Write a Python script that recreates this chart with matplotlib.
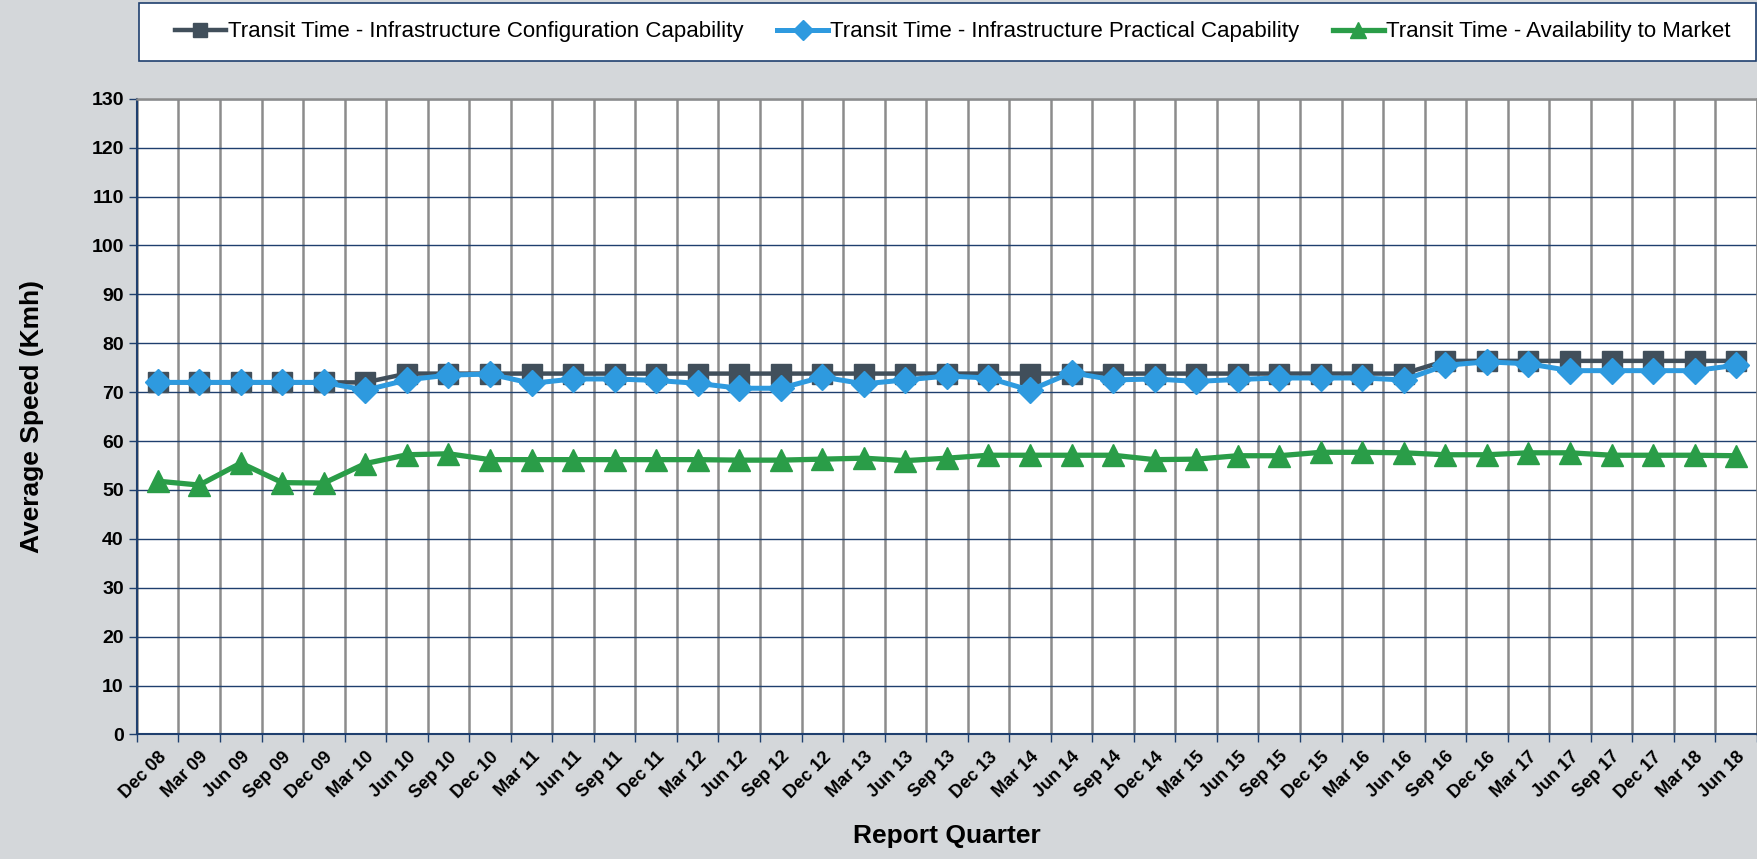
import numpy as np
from matplotlib import pyplot as plt
from matplotlib.patches import Rectangle
from matplotlib.ticker import FixedLocator, MultipleLocator

plt.rcParams['font.family'] = ['Liberation Sans', 'DejaVu Sans']

quarters = ["Dec 08", "Mar 09", "Jun 09", "Sep 09", "Dec 09", "Mar 10", "Jun 10",
            "Sep 10", "Dec 10", "Mar 11", "Jun 11", "Sep 11", "Dec 11", "Mar 12",
            "Jun 12", "Sep 12", "Dec 12", "Mar 13", "Jun 13", "Sep 13", "Dec 13",
            "Mar 14", "Jun 14", "Sep 14", "Dec 14", "Mar 15", "Jun 15", "Sep 15",
            "Dec 15", "Mar 16", "Jun 16", "Sep 16", "Dec 16", "Mar 17", "Jun 17",
            "Sep 17", "Dec 17", "Mar 18", "Jun 18"]

config_capability = [72.0, 72.0, 72.0, 72.0, 72.0, 72.0, 73.8, 73.8, 73.8, 73.8,
                     73.8, 73.8, 73.8, 73.8, 73.8, 73.8, 73.8, 73.8, 73.8, 73.8,
                     73.8, 73.8, 73.8, 73.8, 73.8, 73.8, 73.8, 73.8, 73.8, 73.8,
                     73.8, 76.4, 76.4, 76.4, 76.4, 76.4, 76.4, 76.4, 76.4]

practical_capability = [72.0, 72.0, 72.0, 72.0, 72.0, 70.4, 72.5, 73.5, 73.7, 71.8,
                        72.7, 72.7, 72.4, 71.8, 70.8, 70.8, 73.1, 71.7, 72.5, 73.3,
                        72.9, 70.4, 74.0, 72.5, 72.7, 72.2, 72.6, 72.9, 72.9, 72.9,
                        72.5, 75.5, 76.2, 75.8, 74.4, 74.4, 74.4, 74.4, 75.5]

availability_market = [51.8, 51.0, 55.5, 51.5, 51.4, 55.4, 57.2, 57.4, 56.2, 56.2,
                       56.2, 56.2, 56.2, 56.2, 56.1, 56.1, 56.3, 56.5, 56.0, 56.5,
                       57.1, 57.1, 57.1, 57.1, 56.2, 56.3, 57.0, 57.0, 57.7, 57.7,
                       57.6, 57.2, 57.2, 57.6, 57.6, 57.1, 57.1, 57.1, 57.0]

bg = '#D4D7DA'
navy = '#1F3F6E'

fig = plt.figure(figsize=(17.58, 8.59), dpi=100, facecolor=bg)
ax = fig.add_axes([0.0779, 0.145, 0.9215, 0.740])
ax.set_facecolor('white')

x = np.arange(len(quarters))
l1, = ax.plot(x, config_capability, color='#414F5B', lw=3.2, marker='s', ms=14,
              label='Transit Time - Infrastructure Configuration Capability', zorder=3)
l2, = ax.plot(x, practical_capability, color='#2E9ADF', lw=3.6, marker='D', ms=13,
              label='Transit Time - Infrastructure Practical Capability', zorder=4)
l3, = ax.plot(x, availability_market, color='#2A9D48', lw=3.8, marker='^', ms=16,
              label='Transit Time - Availability to Market', zorder=5)

ax.set_xlim(-0.5, len(quarters) - 0.5)
ax.set_ylim(0, 130)
ax.yaxis.set_major_locator(MultipleLocator(10))
ax.set_xticks(x)
ax.set_xticklabels(quarters, rotation=45, ha='right', rotation_mode='anchor',
                   fontsize=13, fontweight='bold')
ax.xaxis.set_minor_locator(FixedLocator(np.arange(len(quarters) + 1) - 0.5))
ax.tick_params(axis='x', which='major', length=0, pad=10)
ax.tick_params(axis='x', which='minor', length=6, color=navy, width=1)
ax.tick_params(axis='y', length=6, color=navy, width=1, labelsize=14)
for t in ax.get_yticklabels():
    t.set_fontweight('bold')

ax.grid(axis='y', which='major', color=navy, lw=1)
ax.grid(axis='x', which='minor', color='#8C8C8C', lw=1.8)
ax.set_axisbelow(True)

for s in ['left', 'bottom']:
    ax.spines[s].set_color(navy)
    ax.spines[s].set_linewidth(1.5)
for s in ['top', 'right']:
    ax.spines[s].set_color('#8C8C8C')
    ax.spines[s].set_linewidth(1.8)

ax.set_xlabel('Report Quarter', fontsize=19, fontweight='bold', labelpad=16)
ax.set_ylabel('Average Speed (Kmh)', fontsize=19, fontweight='bold', labelpad=34)

# legend box drawn as its own frame, entries placed inside it
fig.patches.append(Rectangle((0.0791, 0.9295), 0.9196, 0.0666, transform=fig.transFigure,
                             facecolor='white', edgecolor=navy, lw=1.2, zorder=0))
leg = fig.legend(handles=[l1, l2, l3], loc='center', ncol=3,
                 bbox_to_anchor=(0.542, 0.9628), frameon=False, fontsize=16,
                 handlelength=2.3, handletextpad=0.1, columnspacing=1.5,
                 markerscale=0.75, borderaxespad=0)

fig.savefig('out.png', dpi=100, facecolor=bg)
